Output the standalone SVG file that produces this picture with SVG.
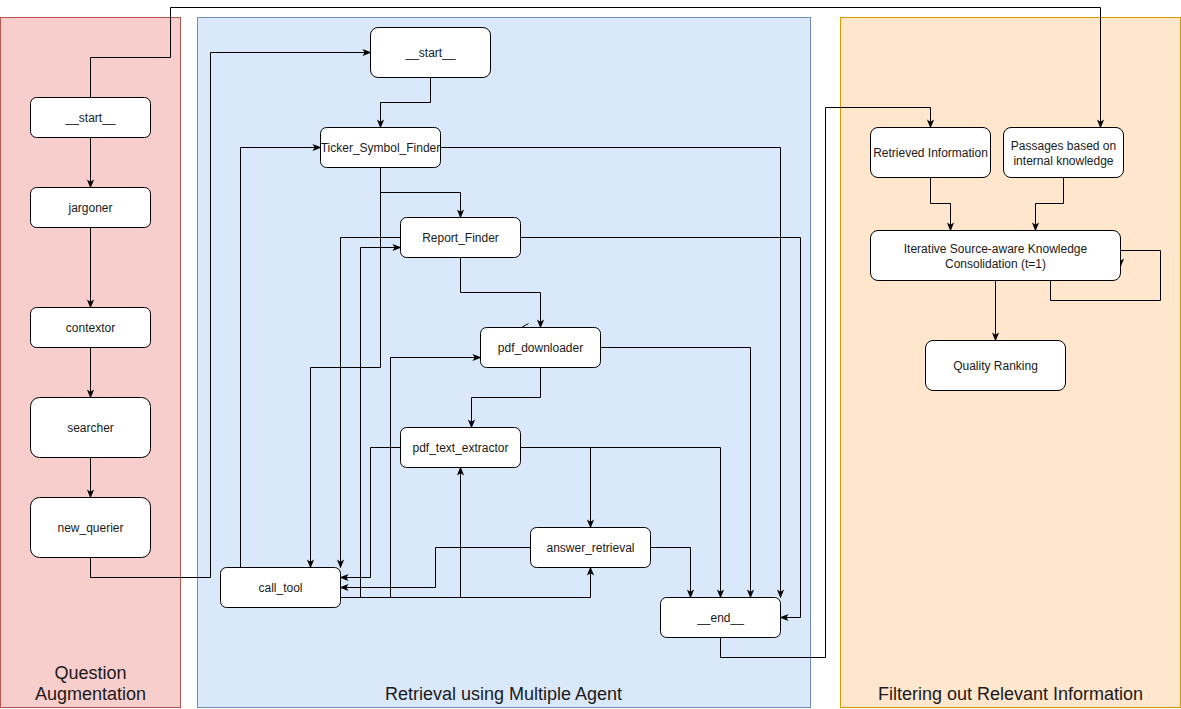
<svg xmlns="http://www.w3.org/2000/svg" width="1181" height="709" viewBox="0 0 1181 709">
<defs>
<marker id="arr" viewBox="0 0 10 10" refX="9" refY="5" markerWidth="9" markerHeight="9" markerUnits="userSpaceOnUse" orient="auto">
<path d="M0,1 L10,5 L0,9 L2.5,5 z" fill="#000"/>
</marker>
<style>
.n rect{fill:#fff;stroke:#000;stroke-width:1}
.n text{font-family:"Liberation Sans",Arial,sans-serif;font-size:12px;fill:#1a1a1a;text-anchor:middle}
.c path{fill:none;stroke:#000;stroke-width:1;marker-end:url(#arr)}
.c path.p{marker-end:none}
.lbl{font-family:"Liberation Sans",Arial,sans-serif;font-size:18px;fill:#1a1a1a;text-anchor:middle}
</style>
</defs>
<rect width="1181" height="709" fill="#fff"/>
<g transform="translate(0.5,0.5)">
<g id="panels">
<rect x="0" y="17" width="180" height="690" fill="#f8cecc" stroke="#b85450"/>
<rect x="197" y="17" width="613" height="690" fill="#dae8fc" stroke="#6c8ebf"/>
<rect x="840" y="17" width="340" height="690" fill="#ffe6cc" stroke="#d79b00"/>
<text class="lbl" x="90" y="678">Question</text>
<text class="lbl" x="90" y="699">Augmentation</text>
<text class="lbl" x="503" y="699">Retrieval using Multiple Agent</text>
<text class="lbl" x="1010" y="699">Filtering out Relevant Information</text>
</g>
<g id="connectors" class="c">
<path d="M90,137 V187"/>
<path d="M90,227 V307"/>
<path d="M90,347 V397"/>
<path d="M90,457 V497"/>
<path d="M90,97 V57 H170 V7 H1100 V127"/>
<path d="M90,557 V577 H210 V52 H370"/>
<path d="M430,77 V102 H380 V127"/>
<path d="M380,167 V192 H460 V217"/>
<path d="M380,167 V367 H310 V567"/>
<path d="M440,147 H780 V597"/>
<path d="M520,237 H800 V617 H780"/>
<path d="M400,237 H340 V567"/>
<path d="M240,567 V147 H320"/>
<path d="M340,597 H360 V247 H400"/>
<path d="M340,597 H390 V357 H480"/>
<path d="M340,597 H460 V467"/>
<path d="M340,597 H590 V567"/>
<path d="M460,257 V292 H540 V327"/>
<path d="M600,347 H750 V597"/>
<path d="M540,367 V397 H471 V427"/>
<path d="M520,447 H720 V597"/>
<path d="M590,447 V527"/>
<path d="M400,447 H370 V577 H340"/>
<path d="M530,547 H435 V587 H340"/>
<path d="M650,547 H690 V597"/>
<path d="M720,637 V657 H825 V107 H930 V127"/>
<path d="M930,177 V203 H950 V230"/>
<path d="M1063,177 V203 H1035 V230"/>
<path d="M995,280 V340"/>
<path d="M1050,280 V300 H1160 V250 H1120 V266"/>
<path class="p" d="M521,327 L528,323" stroke-width="1.5"/>
</g>
<g id="q_start" class="n"><rect x="30" y="97" width="120" height="40" rx="6"/><text x="90" y="121">__start__</text></g>
<g id="jargoner" class="n"><rect x="30" y="187" width="120" height="40" rx="6"/><text x="90" y="211">jargoner</text></g>
<g id="contextor" class="n"><rect x="30" y="307" width="120" height="40" rx="6"/><text x="90" y="331">contextor</text></g>
<g id="searcher" class="n"><rect x="30" y="397" width="120" height="60" rx="9"/><text x="90" y="431">searcher</text></g>
<g id="new_querier" class="n"><rect x="30" y="497" width="120" height="60" rx="9"/><text x="90" y="531">new_querier</text></g>
<g id="r_start" class="n"><rect x="370" y="27" width="120" height="50" rx="7.5"/><text x="430" y="56">__start__</text></g>
<g id="ticker" class="n"><rect x="320" y="127" width="120" height="40" rx="6"/><text x="380" y="151">Ticker_Symbol_Finder</text></g>
<g id="report" class="n"><rect x="400" y="217" width="120" height="40" rx="6"/><text x="460" y="241">Report_Finder</text></g>
<g id="pdf_downloader" class="n"><rect x="480" y="327" width="120" height="40" rx="6"/><text x="540" y="351">pdf_downloader</text></g>
<g id="pdf_text_extractor" class="n"><rect x="400" y="427" width="120" height="40" rx="6"/><text x="460" y="451">pdf_text_extractor</text></g>
<g id="answer_retrieval" class="n"><rect x="530" y="527" width="120" height="40" rx="6"/><text x="590" y="551">answer_retrieval</text></g>
<g id="call_tool" class="n"><rect x="220" y="567" width="120" height="40" rx="6"/><text x="280" y="591">call_tool</text></g>
<g id="end" class="n"><rect x="660" y="597" width="120" height="40" rx="6"/><text x="720" y="621">__end__</text></g>
<g id="retrieved" class="n"><rect x="870" y="127" width="120" height="50" rx="7.5"/><text x="930" y="156">Retrieved Information</text></g>
<g id="passages" class="n"><rect x="1003" y="127" width="120" height="50" rx="7.5"/><text x="1063" y="149">Passages based on</text><text x="1063" y="164">internal knowledge</text></g>
<g id="iterative" class="n"><rect x="870" y="230" width="250" height="50" rx="7.5"/><text x="995" y="252">Iterative Source-aware Knowledge</text><text x="995" y="267">Consolidation (t=1)</text></g>
<g id="quality" class="n"><rect x="925" y="340" width="140" height="50" rx="7.5"/><text x="995" y="369">Quality Ranking</text></g>
</g>
</svg>
